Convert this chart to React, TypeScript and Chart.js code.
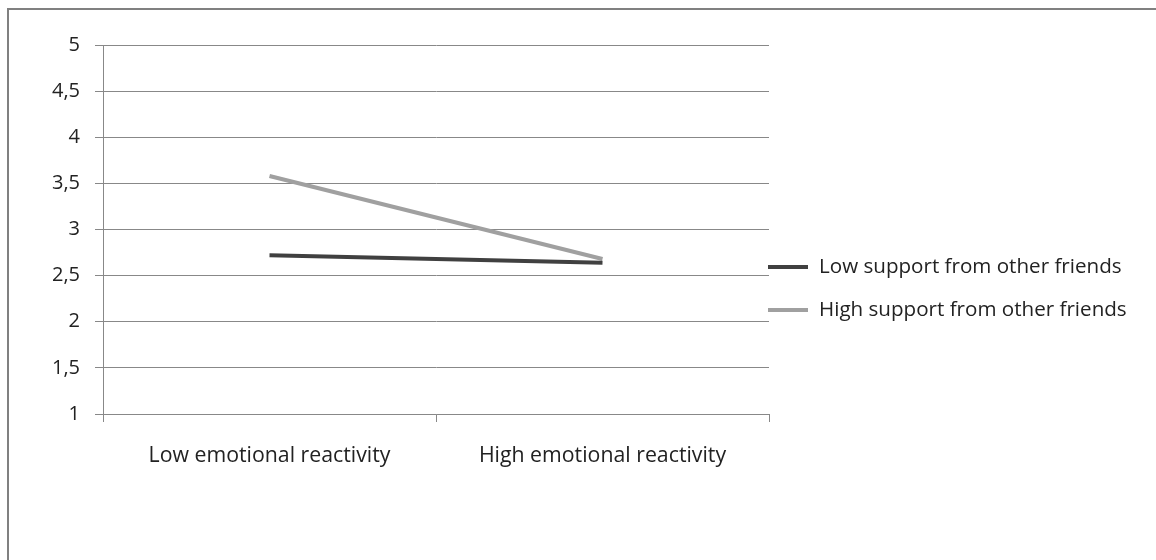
import React, { useEffect, useRef } from "react";
import { Chart, registerables } from "chart.js";

Chart.register(...registerables);

const categories = ["Low emotional reactivity", "High emotional reactivity"];
const lowSupport = [2.72, 2.64];
const highSupport = [3.58, 2.68];
const seriesNames = ["Low support from other friends", "High support from other friends"];
const yTicks = [1, 1.5, 2, 2.5, 3, 3.5, 4, 4.5, 5];

const FONT = "'Open Sans', Lato, sans-serif";

const legendPlugin = {
  id: "customLegend",
  afterDraw(chart: any) {
    const ctx = chart.ctx;
    const x0 = chart.chartArea.right - 1;
    chart.data.datasets.forEach((ds: any, i: number) => {
      const y = 267 + i * 43;
      ctx.save();
      ctx.strokeStyle = ds.borderColor;
      ctx.lineWidth = 4;
      ctx.beginPath();
      ctx.moveTo(x0, y);
      ctx.lineTo(x0 + 40, y);
      ctx.stroke();
      ctx.fillStyle = "#222";
      ctx.font = `20.6px ${FONT}`;
      ctx.textBaseline = "middle";
      ctx.textAlign = "left";
      ctx.fillText(ds.label, x0 + 51, y);
      ctx.restore();
    });
  },
};

export default function App() {
  const ref = useRef<HTMLCanvasElement>(null);
  useEffect(() => {
    if (!ref.current) return;
    const chart = new Chart(ref.current, {
      type: "line",
      data: {
        labels: categories,
        datasets: [
          {
            label: seriesNames[0],
            data: lowSupport,
            borderColor: "#404040",
            backgroundColor: "#404040",
            borderWidth: 4,
            pointRadius: 0,
            tension: 0,
          },
          {
            label: seriesNames[1],
            data: highSupport,
            borderColor: "#a0a0a0",
            backgroundColor: "#a0a0a0",
            borderWidth: 4,
            pointRadius: 0,
            tension: 0,
          },
        ],
      },
      options: {
        animation: false,
        responsive: false,
        layout: { padding: { left: 40, right: 387, top: 45, bottom: 86 } },
        plugins: { legend: { display: false }, tooltip: { enabled: false } },
        scales: {
          x: {
            offset: true,
            grid: {
              offset: true,
              drawOnChartArea: false,
              drawTicks: true,
              tickLength: 8,
              color: "#888",
            },
            border: { color: "#888", width: 1 },
            ticks: { color: "#222", font: { family: FONT, size: 21.3 }, padding: 21 },
            afterFit: (s: any) => { s.height = 60; },
          },
          y: {
            min: 1,
            max: 5,
            afterBuildTicks: (s: any) => { s.ticks = yTicks.map((v) => ({ value: v })); },
            grid: { color: "#888", tickLength: 8 },
            border: { color: "#888", width: 1 },
            ticks: {
              color: "#222",
              font: { family: FONT, size: 20 },
              padding: 15,
              callback: (v: any) => String(v).replace(".", ","),
            },
            afterFit: (s: any) => { s.width = 63; },
          },
        },
      },
      plugins: [legendPlugin],
    });
    return () => chart.destroy();
  }, []);
  return (
    <div style={{ position: "absolute", left: 0, top: 0, width: 1156, height: 560, background: "#fff" }}>
      <div style={{ position: "absolute", left: 7, top: 8, width: 1200, height: 600, borderLeft: "2px solid #808080", borderTop: "2px solid #808080" }} />
      <canvas ref={ref} width={1156} height={560} style={{ position: "absolute", left: 0, top: 0 }} />
    </div>
  );
}
